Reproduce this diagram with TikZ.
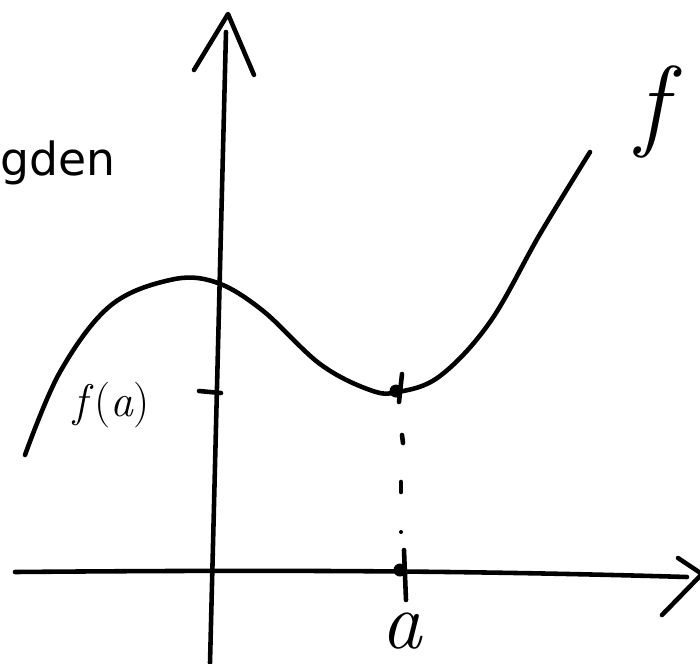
\documentclass[tikz,border=0pt]{standalone}
\usepackage{fontspec}
\newfontfamily\typed{DejaVu Sans}
\begin{document}
\begin{tikzpicture}[x=0.02cm, y=-0.02cm,
    every node/.style={inner sep=0pt},
    sketch/.style={line width=2.6pt, line cap=round, line join=round}]
    \useasboundingbox (0,0) rectangle (700,663);
    % axes
    \coordinate (ybot) at (210,663);
    \coordinate (ytop) at (226,32);
    \coordinate (xleft) at (15,572);
    \coordinate (xright) at (687,577);
    \draw[sketch] (ybot) -- (ytop);
    \draw[sketch] (194,70) -- (228,14) -- (254,75);
    \draw[sketch] (xleft) .. controls (250,570) and (450,570) .. (xright);
    \draw[sketch] (678,558) -- (702,574) -- (662,615);
    % graph of f
    \draw[sketch] plot[smooth, tension=0.6] coordinates {(25,455) (60,372) (110,306) (170,280)
      (215,282) (262,310) (320,364) (370,390) (398,392) (440,376) (490,322) (540,234) (590,152)};
    \coordinate (fa) at (396,391);
    \coordinate (a) at (400,570);
    \fill (fa) circle (6.5);
    \fill (a) circle (6.5);
    \draw[sketch] (402,374) -- (399,402);
    \draw[sketch] (402,435) -- (403,443);
    \draw[sketch] (401,482) -- (401,492);
    \fill (401,532) circle (2);
    \draw[sketch] (404,550) -- (406,600);
    \draw[sketch] (199,391) -- (221,393);
    % labels
    \node[anchor=base east] (txt) at (116,175) {\typed\fontsize{26}{30}\selectfont gden};
    \node (flab) at (652,112) {\fontsize{58}{58}\selectfont\itshape f};
    \node (falab) at (112,405) {\fontsize{26}{28}\selectfont\itshape f\/\upshape(\itshape a\/\upshape)};
    \node[anchor=base] (alab) at (402,648) {\fontsize{46}{46}\selectfont\itshape a};
\end{tikzpicture}
\end{document}
